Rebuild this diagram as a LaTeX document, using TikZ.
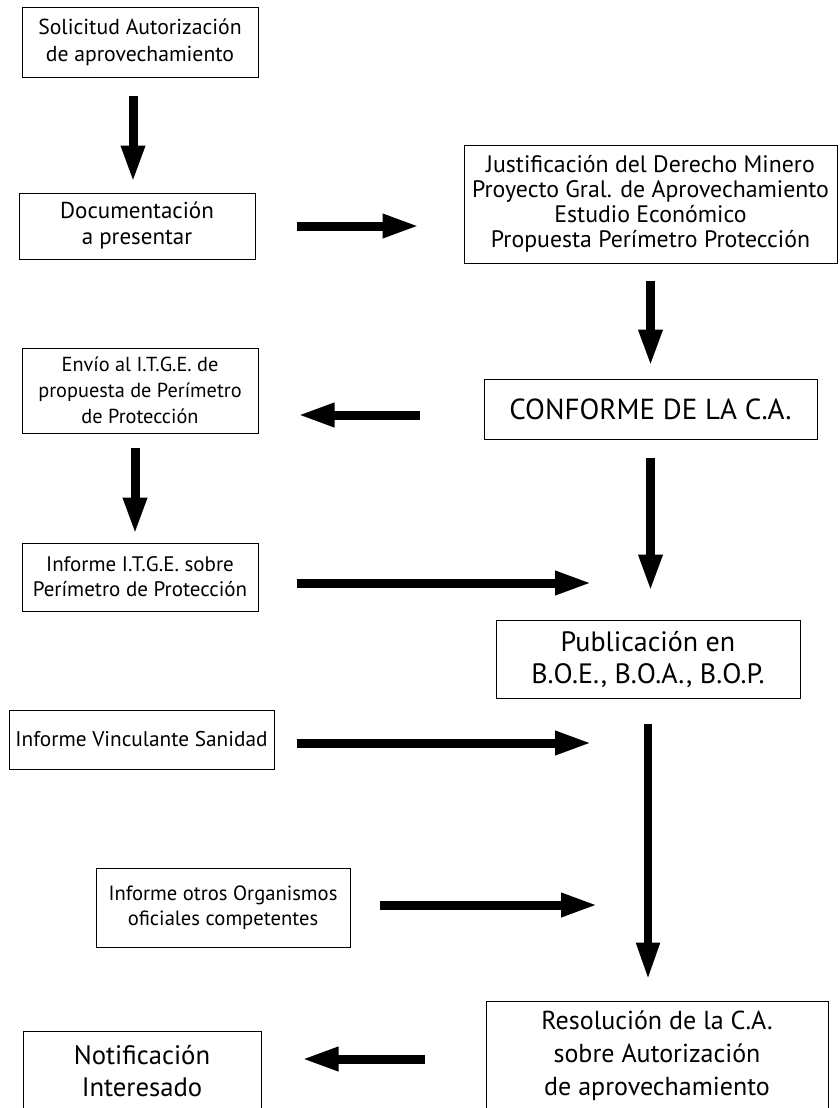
\documentclass[tikz,border=0pt]{standalone}
\usepackage{fontspec}
\setmainfont{PT Sans}
\usetikzlibrary{arrows.meta}
\begin{document}
\begin{tikzpicture}[x=1pt,y=-1pt,
  box/.style={draw,line width=1pt,inner sep=0pt,align=center,anchor=center},
  fs/.style 2 args={font=\fontsize{#1}{#2}\selectfont},
  arr/.style={line width=9pt,-{Triangle[length=37pt,width=22pt]}}]
\clip (0,0) rectangle (840,1108);
\node[box,fs={21.7}{27},minimum width=236pt,minimum height=69pt] (s1) at (140,42.5) {Solicitud Autorización\\de aprovechamiento};
\node[box,fs={23}{26},minimum width=236pt,minimum height=66pt] (doc) at (137,226) {Documentación\\a presentar};
\node[box,fs={23.8}{25},minimum width=373pt,minimum height=118pt] (just) at (650.5,204) {Justificación del Derecho Minero\\Proyecto Gral. de Aprovechamiento\\Estudio Económico\\Propuesta Perímetro Protección};
\node[box,fs={20.3}{26},minimum width=236pt,minimum height=85pt] (env) at (140,390.5) {Envío al I.T.G.E. de\\propuesta de Perímetro\\de Protección};
\node[box,fs={29}{32},minimum width=333pt,minimum height=60pt] (conf) at (650.5,409) {CONFORME DE LA C.A.};
\node[box,fs={21}{25},minimum width=236pt,minimum height=68pt] (itge) at (140,577) {Informe I.T.G.E. sobre\\Perímetro de Protección};
\node[box,fs={28}{32},minimum width=304pt,minimum height=78pt] (pub) at (648,659) {Publicación en\\B.O.E., B.O.A., B.O.P.};
\node[box,fs={21.3}{26},minimum width=265pt,minimum height=59pt] (san) at (141.5,739.5) {Informe Vinculante Sanidad};
\node[box,fs={20.6}{25},minimum width=254pt,minimum height=79pt] (otros) at (223,907.5) {Informe otros Organismos\\oficiales competentes};
\node[box,fs={26}{33},minimum width=342pt,minimum height=110pt] (res) at (657,1056) {Resolución de la C.A.\\sobre Autorización\\de aprovechamiento};
\node[box,fs={26.7}{32},minimum width=238pt,minimum height=80pt] (notif) at (142,1071) {Notificación\\Interesado};
\coordinate (m1) at (592,583);
\coordinate (m2) at (592,743);
\coordinate (m3) at (598,905);
% connectors
\draw[arr,shorten <=18pt,shorten >=10pt] ([xshift=-7pt]s1.south) -- ([xshift=-7pt]s1.south |- doc.north);
\draw[arr,shorten <=41pt,shorten >=44pt] (doc.east) -- (doc.east -| just.west);
\draw[arr,shorten <=17pt,shorten >=12pt] (just.south) -- (just.south |- conf.north);
\draw[arr,shorten <=64pt,shorten >=39pt] ([yshift=-6pt]conf.west) -- ([yshift=-6pt]conf.west -| env.east);
\draw[arr,shorten <=14pt,shorten >=8pt] ([xshift=-5pt]env.south) -- ([xshift=-5pt]env.south |- itge.north);
\draw[arr,shorten <=38pt] (itge.east |- m1) -- (m1);
\draw[arr,shorten <=18pt,shorten >=28pt] (conf.south) -- (conf.south |- pub.north);
\draw[arr,shorten <=22pt] (san.east |- m2) -- (m2);
\draw[arr,line width=8pt,shorten <=25pt,shorten >=21pt] (pub.south) -- (pub.south |- res.north);
\draw[arr,shorten <=29pt] (otros.east |- m3) -- (m3);
\draw[arr,shorten <=61pt,shorten >=40pt] ([yshift=-3pt]res.west) -- ([yshift=-3pt]res.west -| notif.east);
\end{tikzpicture}
\end{document}
